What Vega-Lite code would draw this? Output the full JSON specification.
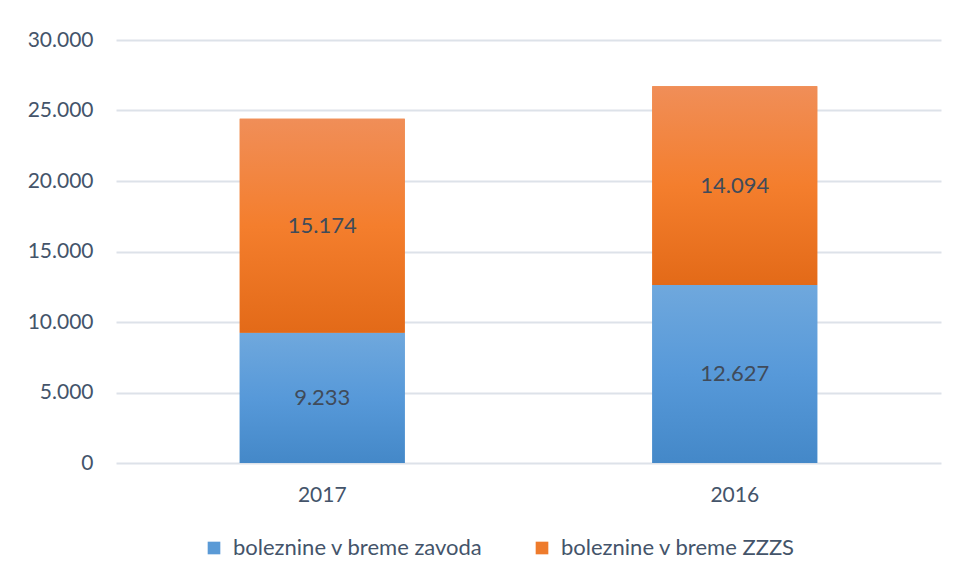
{
  "$schema": "https://vega.github.io/schema/vega-lite/v6.json",
  "width": 825,
  "height": 423,
  "autosize": {"type": "none"},
  "padding": {"left": 116, "top": 40, "right": 19, "bottom": 118},
  "background": "white",
  "data": {
    "values": [
      {"year": "2017", "series": "boleznine v breme zavoda", "value": 9233},
      {"year": "2017", "series": "boleznine v breme ZZZS", "value": 15174},
      {"year": "2016", "series": "boleznine v breme zavoda", "value": 12627},
      {"year": "2016", "series": "boleznine v breme ZZZS", "value": 14094}
    ]
  },
  "encoding": {
    "x": {
      "field": "year",
      "type": "nominal",
      "sort": ["2017", "2016"],
      "scale": {"paddingInner": 0.6, "paddingOuter": 0.3},
      "axis": {
        "title": null,
        "labelAngle": 0,
        "domain": false,
        "ticks": false,
        "labelPadding": 21,
        "labelFont": "Lato",
        "labelFontSize": 21,
        "labelColor": "#44546A"
      }
    },
    "y": {
      "field": "value",
      "type": "quantitative",
      "stack": "zero",
      "scale": {"domain": [0, 30000], "nice": false},
      "axis": {
        "title": null,
        "values": [0, 5000, 10000, 15000, 20000, 25000, 30000],
        "format": ",d",
        "domain": false,
        "ticks": false,
        "labelPadding": 23,
        "labelFont": "Lato",
        "labelFontSize": 21,
        "labelColor": "#44546A",
        "gridColor": "#DDE2E9",
        "gridWidth": 2
      }
    },
    "order": {"field": "series", "sort": "descending"}
  },
  "layer": [
    {
      "mark": {"type": "bar"},
      "encoding": {
        "color": {
          "field": "series",
          "type": "nominal",
          "scale": {
            "domain": ["boleznine v breme zavoda", "boleznine v breme ZZZS"],
            "range": ["#5A9AD6", "#EE7B2C"]
          },
          "legend": {
            "title": null,
            "orient": "none",
            "direction": "horizontal",
            "legendX": 87,
            "legendY": 497,
            "symbolType": "square",
            "symbolSize": 160,
            "symbolStrokeWidth": 0,
            "labelFont": "Lato",
            "labelFontSize": 22,
            "labelColor": "#44546A",
            "labelOffset": 8,
            "labelLimit": 0,
            "columnPadding": 48
          }
        }
      }
    },
    {
      "mark": {"type": "bar"},
      "encoding": {
        "detail": {"field": "series"},
        "fill": {
          "condition": {
            "test": "datum.series === 'boleznine v breme zavoda'",
            "value": {
              "gradient": "linear",
              "x1": 0, "y1": 0, "x2": 0, "y2": 1,
              "stops": [
                {"offset": 0, "color": "#6FA8DD"},
                {"offset": 0.5, "color": "#5799D9"},
                {"offset": 1, "color": "#4488C8"}
              ]
            }
          },
          "value": {
            "gradient": "linear",
            "x1": 0, "y1": 0, "x2": 0, "y2": 1,
            "stops": [
              {"offset": 0, "color": "#F08E58"},
              {"offset": 0.5, "color": "#F47E2D"},
              {"offset": 1, "color": "#E36A18"}
            ]
          }
        }
      }
    },
    {
      "mark": {"type": "text", "font": "Lato", "fontSize": 22, "color": "#404B5A", "baseline": "middle", "align": "center"},
      "encoding": {
        "detail": {"field": "series"},
        "y": {"field": "value", "type": "quantitative", "stack": "zero", "bandPosition": 0.5},
        "text": {"field": "value", "type": "quantitative", "format": ",d"}
      }
    }
  ],
  "config": {
    "locale": {
      "number": {"decimal": ",", "thousands": ".", "grouping": [3], "currency": ["", " €"]}
    },
    "view": {"stroke": null}
  }
}
